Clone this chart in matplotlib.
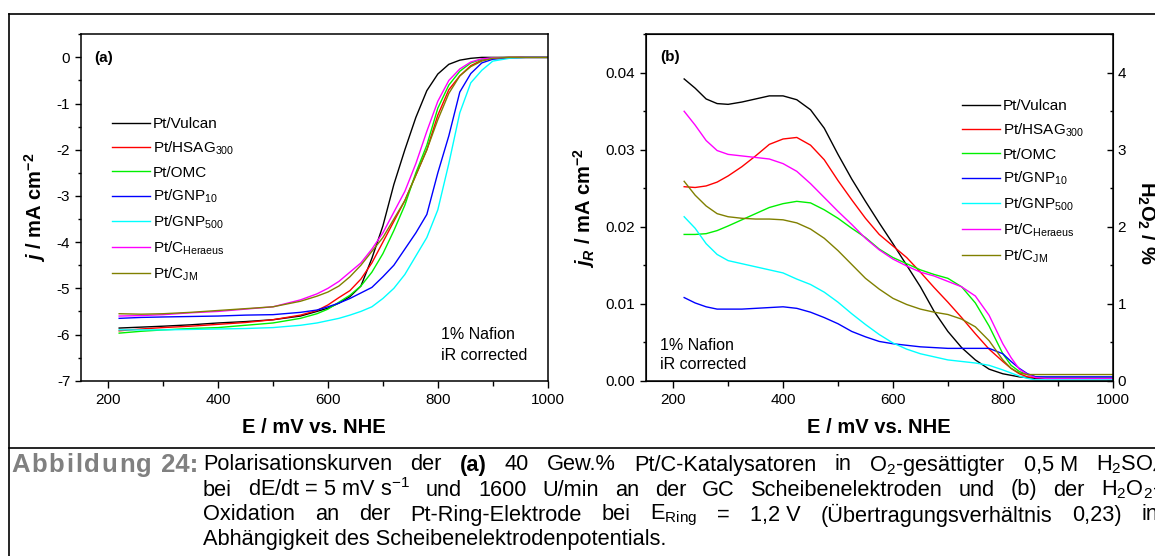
import numpy as np
import matplotlib as m
m.use('Agg')
import matplotlib.pyplot as plt
from matplotlib.ticker import MultipleLocator
from matplotlib.lines import Line2D

plt.rcParams['font.family'] = ['Liberation Sans', 'DejaVu Sans']
plt.rcParams['axes.unicode_minus'] = False
plt.rcParams['mathtext.fontset'] = 'custom'
plt.rcParams['mathtext.rm'] = 'Liberation Sans'
plt.rcParams['mathtext.it'] = 'Liberation Sans:italic'
plt.rcParams['mathtext.bf'] = 'Liberation Sans:bold'
try:
  plt.rcParams['mathtext.bfit'] = 'Liberation Sans:bold:italic'
except KeyError:
  pass

# ---- data ----
labels = ['Pt/Vulcan', 'Pt/HSAG$_{\\mathregular{300}}$', 'Pt/OMC', 'Pt/GNP$_{\\mathregular{10}}$',
          'Pt/GNP$_{\\mathregular{500}}$', 'Pt/C$_{\\mathregular{Heraeus}}$', 'Pt/C$_{\\mathregular{JM}}$']
colors = ['#000000', '#FF0000', '#00F000', '#0000FF', '#00FFFF', '#FF00FF', '#808000']

# (a) disk current density, mA cm-2
E_disk = [220, 260, 300, 350, 400, 450, 500, 550, 580, 600, 620, 640, 660, 680, 700,
          720, 740, 760, 780, 800, 820, 840, 860, 880, 900, 930, 960, 1000]
j_vulcan = [-5.86, -5.84, -5.82, -5.79, -5.75, -5.72, -5.68, -5.60, -5.50, -5.43, -5.32, -5.18, -4.95, -4.35, -3.65,
            -2.75, -2.00, -1.30, -0.72, -0.36, -0.15, -0.06, -0.02, 0.0, 0.0, 0.0, 0.0, 0.0]
j_hsag = [-5.92, -5.88, -5.85, -5.82, -5.78, -5.74, -5.68, -5.58, -5.48, -5.36, -5.20, -5.05, -4.80, -4.45, -4.00,
          -3.55, -3.10, -2.55, -2.00, -1.25, -0.70, -0.40, -0.18, -0.06, -0.02, 0.0, 0.0, 0.0]
j_omc = [-5.97, -5.93, -5.90, -5.87, -5.85, -5.80, -5.75, -5.65, -5.55, -5.45, -5.30, -5.15, -4.95, -4.65, -4.25,
         -3.75, -3.20, -2.50, -1.90, -1.10, -0.60, -0.30, -0.12, -0.04, -0.01, 0.0, 0.0, 0.0]
j_gnp10 = [-5.65, -5.63, -5.62, -5.61, -5.60, -5.58, -5.57, -5.52, -5.47, -5.40, -5.32, -5.22, -5.10, -4.98, -4.75,
           -4.50, -4.15, -3.80, -3.40, -2.50, -1.70, -0.75, -0.35, -0.12, -0.04, -0.01, 0.0, 0.0]
j_gnp500 = [-5.90, -5.90, -5.90, -5.89, -5.88, -5.87, -5.85, -5.80, -5.75, -5.70, -5.65, -5.58, -5.50, -5.40, -5.22,
            -5.00, -4.70, -4.30, -3.90, -3.30, -2.30, -1.20, -0.55, -0.28, -0.08, -0.02, 0.0, 0.0]
j_heraeus = [-5.60, -5.59, -5.57, -5.53, -5.50, -5.45, -5.40, -5.25, -5.12, -5.00, -4.85, -4.65, -4.45, -4.15, -3.80,
             -3.35, -2.90, -2.30, -1.60, -0.95, -0.50, -0.25, -0.10, -0.03, -0.01, 0.0, 0.0, 0.0]
j_jm = [-5.55, -5.56, -5.55, -5.52, -5.48, -5.44, -5.40, -5.28, -5.17, -5.08, -4.95, -4.75, -4.50, -4.20, -3.90,
        -3.50, -3.10, -2.55, -2.00, -1.35, -0.78, -0.40, -0.20, -0.08, -0.02, 0.0, 0.0, 0.0]

# (b) ring current density, mA cm-2
E_ring = [220, 240, 260, 280, 300, 325, 350, 375, 400, 425, 450, 475, 500, 525, 550, 575, 600,
          625, 650, 675, 700, 725, 750, 775, 800, 815, 830, 845, 860, 880, 900, 950, 1000]
jr_vulcan = [0.0392, 0.0380, 0.0366, 0.0360, 0.0359, 0.0362, 0.0366, 0.0370, 0.0370, 0.0365, 0.0352, 0.0328,
             0.0294, 0.0262, 0.0233, 0.0205, 0.0178, 0.0150, 0.0122, 0.0090, 0.0064, 0.0043, 0.0027, 0.0015,
             0.0009, 0.0007, 0.0005, 0.0004, 0.0003, 0.0003, 0.0003, 0.0003, 0.0003]
jr_hsag = [0.0252, 0.0251, 0.0253, 0.0258, 0.0266, 0.0278, 0.0292, 0.0307, 0.0314, 0.0316, 0.0306, 0.0287,
           0.0260, 0.0235, 0.0211, 0.0190, 0.0175, 0.0160, 0.0141, 0.0121, 0.0102, 0.0082, 0.0061, 0.0041,
           0.0025, 0.0016, 0.0009, 0.0005, 0.0004, 0.0004, 0.0004, 0.0004, 0.0004]
jr_omc = [0.0190, 0.0190, 0.0191, 0.0195, 0.0201, 0.0209, 0.0217, 0.0225, 0.0230, 0.0233, 0.0231, 0.0222,
          0.0211, 0.0198, 0.0186, 0.0171, 0.0160, 0.0152, 0.0144, 0.0138, 0.0133, 0.0122, 0.0101, 0.0071,
          0.0035, 0.0020, 0.0012, 0.0008, 0.0005, 0.0004, 0.0004, 0.0004, 0.0004]
jr_gnp10 = [0.0108, 0.0101, 0.0096, 0.0093, 0.0093, 0.0093, 0.0094, 0.0095, 0.0096, 0.0094, 0.0089, 0.0082,
            0.0074, 0.0064, 0.0057, 0.0051, 0.0048, 0.0046, 0.0044, 0.0043, 0.0042, 0.0042, 0.0042, 0.0042,
            0.0035, 0.0025, 0.0016, 0.0009, 0.0005, 0.0005, 0.0005, 0.0005, 0.0005]
jr_gnp500 = [0.0213, 0.0198, 0.0178, 0.0164, 0.0156, 0.0152, 0.0148, 0.0144, 0.0140, 0.0132, 0.0125, 0.0115,
             0.0102, 0.0087, 0.0073, 0.0060, 0.0049, 0.0041, 0.0035, 0.0031, 0.0027, 0.0025, 0.0023, 0.0020,
             0.0014, 0.0010, 0.0006, 0.0003, 0.0001, 0.0001, 0.0001, 0.0001, 0.0001]
jr_heraeus = [0.0350, 0.0332, 0.0312, 0.0299, 0.0294, 0.0292, 0.0290, 0.0288, 0.0282, 0.0272, 0.0256, 0.0238,
              0.0220, 0.0203, 0.0185, 0.0170, 0.0158, 0.0149, 0.0141, 0.0136, 0.0129, 0.0122, 0.0110, 0.0085,
              0.0048, 0.0030, 0.0015, 0.0008, 0.0004, 0.0003, 0.0003, 0.0003, 0.0003]
jr_jm = [0.0259, 0.0241, 0.0227, 0.0217, 0.0213, 0.0211, 0.0210, 0.0210, 0.0209, 0.0205, 0.0197, 0.0185,
         0.0169, 0.0151, 0.0133, 0.0119, 0.0107, 0.0099, 0.0093, 0.0089, 0.0086, 0.0080, 0.0070, 0.0052,
         0.0027, 0.0016, 0.0010, 0.0008, 0.0008, 0.0008, 0.0008, 0.0008, 0.0008]

disk = [j_vulcan, j_hsag, j_omc, j_gnp10, j_gnp500, j_heraeus, j_jm]
ring = [jr_vulcan, jr_hsag, jr_omc, jr_gnp10, jr_gnp500, jr_heraeus, jr_jm]


def style_axis(ax):
  for s in ax.spines.values():
    s.set_linewidth(1.1)
  ax.tick_params(which='both', direction='out', labelsize=11, width=1.0)
  ax.tick_params(axis='y', which='major', length=4)
  ax.tick_params(axis='y', which='minor', length=2.5)
  ax.tick_params(axis='x', which='major', length=5)
  ax.tick_params(axis='x', which='minor', length=3.5)
  ax.xaxis.set_major_locator(MultipleLocator(200))
  ax.xaxis.set_minor_locator(MultipleLocator(100))
  ax.set_xlim(150, 1000)


fig = plt.figure(figsize=(11.55, 5.56), dpi=100)
W, H = 1155.0, 556.0

axa = fig.add_axes([80.7/W, 1-380.7/H, 467/W, 346.4/H])
axb = fig.add_axes([645.7/W, 1-380.7/H, 467/W, 346.4/H])

for i in range(len(labels)):
  axa.plot(E_disk, disk[i], color=colors[i], lw=1.0, label=labels[i])
  axb.plot(E_ring, ring[i], color=colors[i], lw=1.0, label=labels[i])

leg_kw = dict(loc='upper left', frameon=False, fontsize=11, handlelength=2.5, handletextpad=0.2,
              borderpad=0, borderaxespad=0, labelspacing=0.55)

# (a)
style_axis(axa)
axa.set_ylim(-7, 0.5)
axa.yaxis.set_major_locator(MultipleLocator(1))
axa.yaxis.set_minor_locator(MultipleLocator(0.5))
axa.set_xlabel('E / mV vs. NHE', fontsize=14.5, fontweight='bold', labelpad=8)
axa.set_ylabel(r'$\mathbfit{j}$ / mA cm$^{\mathbf{-2}}$', fontsize=14.5, fontweight='bold', labelpad=6)
axa.text(0.028, 0.932, '(a)', transform=axa.transAxes, fontsize=11, fontweight='bold', va='center')
axa.text(0.772, 0.132, '1% Nafion', transform=axa.transAxes, fontsize=11.5, va='center')
axa.text(0.772, 0.072, 'iR corrected', transform=axa.transAxes, fontsize=11.5, va='center')
axa.legend(bbox_to_anchor=(0.066, 0.76), **leg_kw)

# (b)
style_axis(axb)
axb.set_ylim(0, 0.045)
axb.yaxis.set_major_locator(MultipleLocator(0.01))
axb.yaxis.set_minor_locator(MultipleLocator(0.005))
axb.yaxis.set_major_formatter(plt.FormatStrFormatter('%.2f'))
axb.set_xlabel('E / mV vs. NHE', fontsize=14.5, fontweight='bold', labelpad=8)
axb.set_ylabel(r'$\mathbfit{j}_{\mathbfit{R}}$ / mA cm$^{\mathbf{-2}}$', fontsize=14.5, fontweight='bold', labelpad=6)
axb.text(0.031, 0.935, '(b)', transform=axb.transAxes, fontsize=11, fontweight='bold', va='center')
axb.text(0.031, 0.103, '1% Nafion', transform=axb.transAxes, fontsize=11.5, va='center')
axb.text(0.031, 0.046, 'iR corrected', transform=axb.transAxes, fontsize=11.5, va='center')
axb.legend(bbox_to_anchor=(0.677, 0.812), **leg_kw)

ax2 = axb.twinx()
ax2.set_ylim(0, 4.5)
ax2.yaxis.set_major_locator(MultipleLocator(1))
ax2.yaxis.set_minor_locator(MultipleLocator(0.5))
ax2.tick_params(which='both', direction='in', labelsize=11, width=1.0)
ax2.tick_params(which='major', length=4)
ax2.tick_params(which='minor', length=2.5)
ax2.set_ylabel(r'H$_{\mathbf{2}}$O$_{\mathbf{2}}$ / %', fontsize=14.5, fontweight='bold', rotation=270)
ax2.yaxis.set_label_coords(1.095, 0.455)

# frame lines around the figure cell
fig.add_artist(Line2D([9/W, 1.0], [1-14/H, 1-14/H], color='black', lw=1.2))
fig.add_artist(Line2D([9/W, 1.0], [1-448/H, 1-448/H], color='black', lw=1.2))
fig.add_artist(Line2D([9/W, 9/W], [0.0, 1-14/H], color='black', lw=1.2))

# caption, justified lines
cap_font = ['Liberation Sans Narrow', 'Liberation Sans', 'DejaVu Sans']
cap_size = 15.7
renderer = fig.canvas.get_renderer()


def put_line(words, x0, x1, y, justify=True, size=cap_size):
  # words: list of (text, weight, color)
  objs = []
  for txt, wt, col in words:
    t = fig.text(x0/W, 1-y/H, txt, fontsize=size, family=cap_font, fontweight=wt,
                 color=col, va='center', ha='left')
    objs.append(t)
  widths = [t.get_window_extent(renderer).width for t in objs]
  if justify and len(objs) > 1:
    gap = (x1 - x0 - sum(widths)) / (len(objs) - 1)
  else:
    gap = 0
  x = x0
  for t, w in zip(objs, widths):
    t.set_x(x/W)
    x += w + gap


K = 'black'
G = '#808080'
# slightly letter-spaced label
put_line([(c, 'bold', G) for c in 'Abbildung'] + [('\u00a024:', 'bold', G)], 11, 198, 465, size=18.5)
put_line([('Polarisationskurven', 'normal', K), ('der', 'normal', K), ('(a)', 'bold', K), ('40', 'normal', K),
          ('Gew.%', 'normal', K), ('Pt/C-Katalysatoren', 'normal', K), ('in', 'normal', K),
          (r'O$_\mathregular{2}$-gesättigter', 'normal', K), ('0,5 M', 'normal', K),
          (r'H$_\mathregular{2}$SO$_\mathregular{4}$', 'normal', K)], 203, 1163, 465)
put_line([('bei', 'normal', K), ('dE/dt = 5 mV s$^\\mathregular{-1}$', 'normal', K), ('und', 'normal', K),
          ('1600', 'normal', K), ('U/min', 'normal', K), ('an', 'normal', K), ('der', 'normal', K),
          ('GC', 'normal', K), ('Scheibenelektroden', 'normal', K), ('und', 'normal', K), ('(b)', 'normal', K),
          ('der', 'normal', K), (r'H$_\mathregular{2}$O$_\mathregular{2}$-', 'normal', K)], 203, 1160, 490)
put_line([('Oxidation', 'normal', K), ('an', 'normal', K), ('der', 'normal', K), ('Pt-Ring-Elektrode', 'normal', K),
          ('bei', 'normal', K), (r'E$_\mathregular{Ring}$', 'normal', K), ('=', 'normal', K), ('1,2 V', 'normal', K),
          ('(Übertragungsverhältnis', 'normal', K), ('0,23)', 'normal', K), ('in', 'normal', K)], 203, 1158, 515)
put_line([('Abhängigkeit des Scheibenelektrodenpotentials.', 'normal', K)], 203, 1158, 540, justify=False)

fig.savefig('out.png', dpi=100)
